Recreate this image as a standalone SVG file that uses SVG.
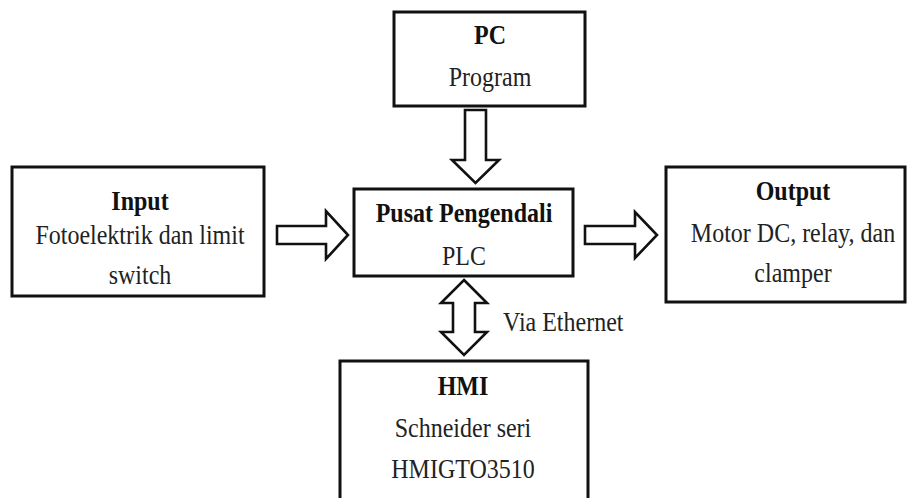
<svg xmlns="http://www.w3.org/2000/svg" width="908" height="498" viewBox="0 0 908 498">
<style>
.box{fill:#fff;stroke:#111;stroke-width:3}
.arr{fill:#fff;stroke:#111;stroke-width:2.6;stroke-linejoin:miter}
text{font-family:"Liberation Serif","Times New Roman",serif;font-size:24px;fill:#222;text-anchor:middle}
.b{font-weight:bold;fill:#111}
</style>
<rect width="908" height="498" fill="#fff"/>
<g id="pc">
<rect class="box" x="394" y="12" width="191" height="94"/>
<text class="b" transform="matrix(1 0 0 1.1 490 44)">PC</text>
<text transform="matrix(1 0 0 1.1 490 86)">Program</text>
</g>
<g id="input">
<rect class="box" x="12" y="167" width="252" height="129"/>
<text class="b" transform="matrix(1 0 0 1.1 140 210)">Input</text>
<text transform="matrix(1 0 0 1.1 140 244)">Fotoelektrik dan limit</text>
<text transform="matrix(1 0 0 1.1 140 284)">switch</text>
</g>
<g id="plc">
<rect class="box" x="354" y="189" width="219" height="87"/>
<text class="b" transform="matrix(1 0 0 1.1 464 222)">Pusat Pengendali</text>
<text transform="matrix(1 0 0 1.1 464 265)">PLC</text>
</g>
<g id="output">
<rect class="box" x="666" y="167" width="239" height="135"/>
<text class="b" transform="matrix(1 0 0 1.1 793 200)">Output</text>
<text transform="matrix(1 0 0 1.1 793 242)">Motor DC, relay, dan</text>
<text transform="matrix(1 0 0 1.1 793 282)">clamper</text>
</g>
<g id="hmi">
<rect class="box" x="340" y="361" width="248" height="145"/>
<text class="b" transform="matrix(1 0 0 1.1 463 395)">HMI</text>
<text transform="matrix(1 0 0 1.1 463 437)">Schneider seri</text>
<text transform="matrix(1 0 0 1.1 463 478)">HMIGTO3510</text>
</g>
<g id="connectors">
<polygon class="arr" points="465,110 486,110 486,160 499,160 475.5,183 452,160 465,160"/>
<polygon class="arr" points="277,226 326,226 326,211 348,235 326,259 326,244 277,244"/>
<polygon class="arr" points="585,226 635,226 635,212 657,235 635,258 635,244 585,244"/>
<polygon class="arr" points="464,280 487,303 475,303 475,332 487,332 464,355 441,332 453,332 453,303 441,303"/>
<text style="text-anchor:start" transform="matrix(1 0 0 1.1 503 331)">Via Ethernet</text>
</g>
</svg>
